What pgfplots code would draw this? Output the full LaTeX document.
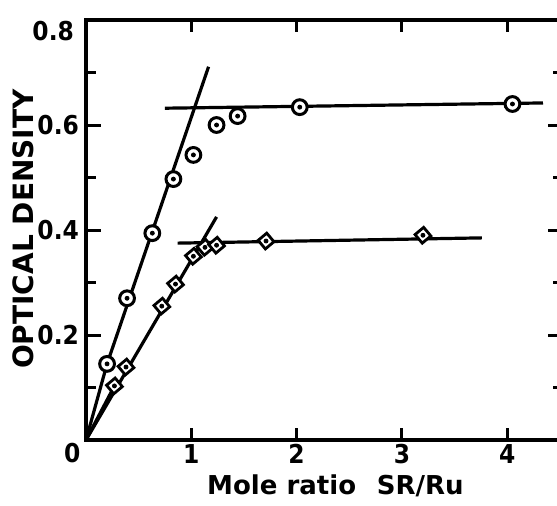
\documentclass[border=0pt]{standalone}
\usepackage{pgfplots}
\usepackage{pgfplotstable}
\pgfplotsset{compat=1.18}
\usepackage{fontspec}
\setmainfont{DejaVu Sans}
\newfontfamily\condfont{DejaVu Sans Condensed}

% circles: upper series, diamonds: lower series
\pgfplotstableread{
x y
0.20 0.145
0.39 0.270
0.63 0.394
0.83 0.497
1.02 0.543
1.24 0.600
1.44 0.617
2.03 0.634
4.05 0.640
}\circdata
\pgfplotstableread{
x y
0.27 0.103
0.38 0.139
0.72 0.255
0.85 0.297
1.02 0.350
1.13 0.367
1.24 0.371
1.71 0.379
3.20 0.390
}\diadata

\begin{document}
\begin{tikzpicture}
\path[use as bounding box] (-43pt,-32.5pt) rectangle (235.5pt,220pt);
\clip (-43pt,-32.5pt) rectangle (235.5pt,220pt);
\begin{axis}[
    scale only axis,
    width=238.5pt, height=210pt,
    xmin=0, xmax=4.53, ymin=0, ymax=0.8,
    axis line style={line width=2pt},
    xtick={1,2,3,4}, xticklabels={1,2,3,4},
    ytick={0.2,0.4,0.6,0.8}, yticklabels={0.2,0.4,0.6,{}},
    minor ytick={0.1,0.3,0.5,0.7},
    tick align=inside,
    major tick length=7.5pt, minor tick length=5pt,
    xtick style={/pgfplots/major tick length=6pt},
    tick style={line width=1.5pt, black},
    ticklabel style={font=\condfont\bfseries\fontsize{13}{13}\selectfont},
    xticklabel style={yshift=-1pt, inner sep=1pt},
    xlabel={Mole ratio\hspace{0.8em}SR/Ru},
    xlabel style={at={(axis description cs:0.523,-0.108)}, anchor=center, inner sep=1pt,
        font=\bfseries\fontsize{13}{14}\selectfont},
    ylabel={OPTICAL DENSITY},
    ylabel style={at={(axis description cs:-0.132,0.502)}, anchor=center,
        font=\bfseries\fontsize{14}{14}\selectfont},
]
\addplot[black, line width=1.6pt] coordinates {(0,0) (0.2,0.145) (1.164,0.711)};
\addplot[black, line width=1.6pt] coordinates {(0.75,0.632) (4.34,0.642)};
\addplot[black, line width=1.6pt] coordinates {(0,0) (1.24,0.425)};
\addplot[black, line width=1.6pt] coordinates {(0.87,0.375) (3.76,0.385)};
\addplot[black, line width=1.6pt] coordinates {(0,0) (0.27,0.103)};

\addplot[only marks, mark=*, mark size=3.7pt,
    mark options={draw=black, fill=white, line width=1.5pt}] table {\circdata};
\addplot[only marks, mark=*, mark size=1pt, black] table {\circdata};
\addplot[only marks, mark=square*, mark size=2.8pt,
    mark options={draw=black, fill=white, line width=1.4pt, rotate=40}] table {\diadata};
\addplot[only marks, mark=*, mark size=1pt, black] table {\diadata};
\end{axis}
\node[font=\condfont\bfseries\fontsize{13}{13}\selectfont] at (-6.9pt,-6.5pt) {0};
\node[font=\condfont\bfseries\fontsize{13}{13}\selectfont, anchor=east] at (-2.5pt,204.5pt) {0.8};
\end{tikzpicture}
\end{document}
